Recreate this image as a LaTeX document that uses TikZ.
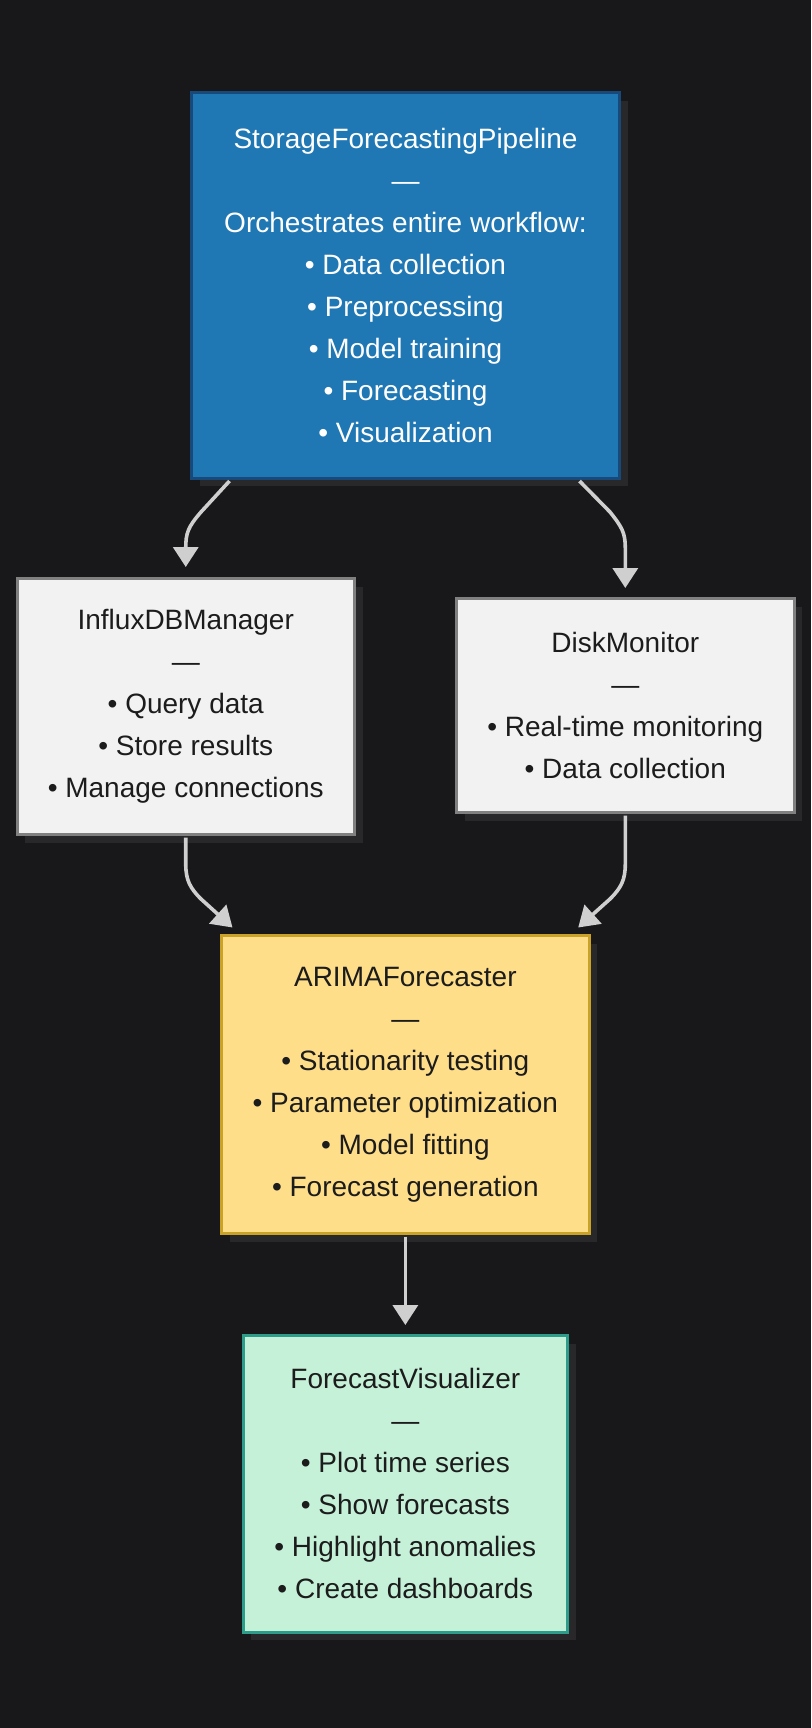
\documentclass[tikz,border=0pt]{standalone}
\usepackage{fontspec}
\setmainfont{Liberation Sans}
\usetikzlibrary{arrows.meta,shadows,calc}
\definecolor{bgc}{HTML}{18181B}
\definecolor{shadowc}{HTML}{28282B}
\definecolor{arrowc}{HTML}{CFCFCF}
\definecolor{blueFill}{HTML}{1F77B4}
\definecolor{blueLine}{HTML}{174A7A}
\definecolor{grayFill}{HTML}{F2F2F2}
\definecolor{grayLine}{HTML}{808080}
\definecolor{yelFill}{HTML}{FFDE8A}
\definecolor{yelLine}{HTML}{C9A227}
\definecolor{grnFill}{HTML}{C6F1D9}
\definecolor{grnLine}{HTML}{2E9C8A}
\definecolor{txtDark}{HTML}{1C1C1C}
\begin{document}
\begin{tikzpicture}[x=0.5pt,y=-0.5pt,
  box/.style={draw, line width=1.5pt, align=center, inner sep=0pt,
    font=\fontsize{14}{21}\selectfont,
    drop shadow={shadow xshift=4pt, shadow yshift=-4pt, fill=shadowc, opacity=1}},
  bluebox/.style={box, fill=blueFill, draw=blueLine, text=white},
  graybox/.style={box, fill=grayFill, draw=grayLine, text=txtDark},
  yelbox/.style={box, fill=yelFill, draw=yelLine, text=txtDark},
  grnbox/.style={box, fill=grnFill, draw=grnLine, text=txtDark},
  arr/.style={draw=arrowc, line width=1.8pt, -{Triangle[width=12.5pt,length=10pt]}}]
\fill[bgc] (0,0) rectangle (811,1728);
\useasboundingbox (0,0) rectangle (811,1728);

\node[bluebox, minimum width=214pt, minimum height=192.5pt] (top) at (405.5,285.5)
  {StorageForecastingPipeline\\—\\Orchestrates entire workflow:\\• Data collection\\• Preprocessing\\• Model training\\• Forecasting\\• Visualization};

\node[graybox, minimum width=168.75pt, minimum height=128pt] (infl) at (185.75,706.5)
  {InfluxDBManager\\—\\• Query data\\• Store results\\• Manage connections};

\node[graybox, minimum width=168.8pt, minimum height=107pt] (disk) at (625.3,705.5)
  {DiskMonitor\\—\\• Real-time monitoring\\• Data collection};

\node[yelbox, minimum width=183.85pt, minimum height=149pt] (arima) at (405.35,1084.5)
  {ARIMAForecaster\\—\\• Stationarity testing\\• Parameter optimization\\• Model fitting\\• Forecast generation};

\node[grnbox, minimum width=162.15pt, minimum height=148.25pt] (viz) at (405.35,1483.75)
  {ForecastVisualizer\\—\\• Plot time series\\• Show forecasts\\• Highlight anomalies\\• Create dashboards};

\draw[arr] ($(top.south)+(-176,1.5)$) -- (201,512) .. controls (188,527) and (185.75,533) .. (185.75,548) -- ($(infl.north)+(0,-10)$);
\draw[arr] ($(top.south)+(174,1.5)$) -- (610,512) .. controls (622,527) and (625.3,533) .. (625.3,548) -- ($(disk.north)+(0,-9)$);
\draw[arr] ($(infl.south)+(0,1.5)$) -- (185.75,864) .. controls (185.75,880) and (190,888) .. (201,899) -- ($(arima.north west)+(12.5,-6.5)$);
\draw[arr] ($(disk.south)+(0,1.5)$) -- (625.3,864) .. controls (625.3,880) and (621,888) .. (610,899) -- ($(arima.north east)+(-12.5,-6.5)$);
\draw[arr] ($(arima.south)+(0,1.5)$) -- ($(viz.north)+(0,-9)$);
\end{tikzpicture}
\end{document}
